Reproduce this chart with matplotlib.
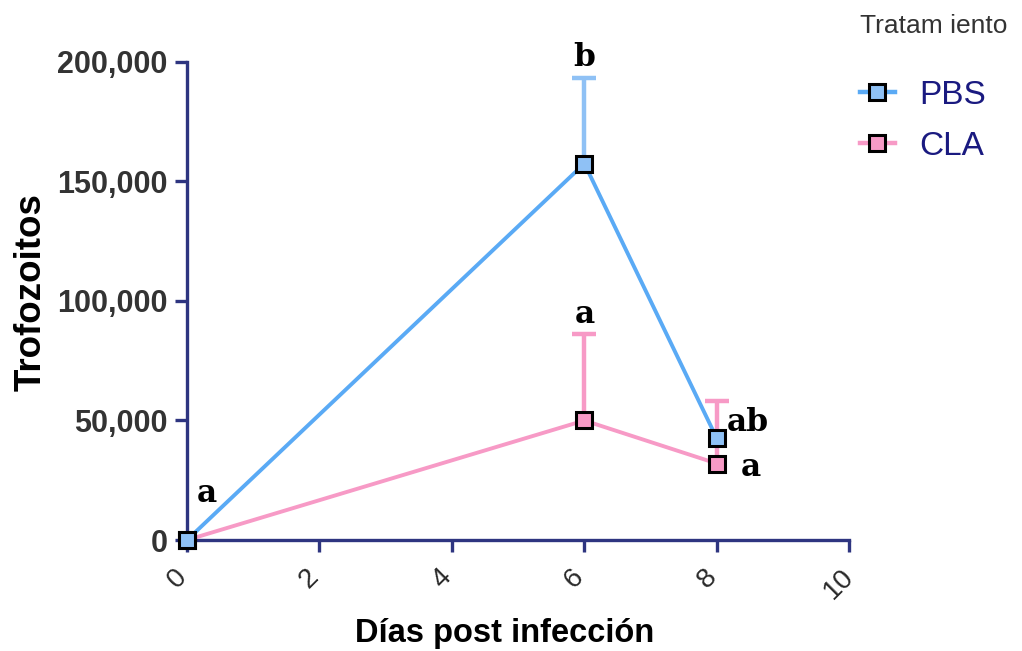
import matplotlib
matplotlib.use("Agg")
import matplotlib.pyplot as plt
import matplotlib.transforms as mtransforms
import numpy as np
from matplotlib.ticker import FuncFormatter
from matplotlib.lines import Line2D

# Days post infection and trophozoite counts (mean, upper SEM)
dias = [0, 6, 8]
pbs_media = [0, 157500, 42500]
pbs_error = [0, 36000, 0]
cla_media = [0, 50000, 32000]
cla_error = [0, 36000, 26000]

# Statistical group letters
letras_pbs = ["a", "b", "ab"]
letras_cla = ["", "a", "a"]

x_ticks = [0, 2, 4, 6, 8, 10]
y_ticks = [0, 50000, 100000, 150000, 200000]

eje_color = "#2e3580"
pbs_linea = "#5aaaf5"
pbs_relleno = "#8fc1f5"
cla_linea = "#f79ac6"
cla_relleno = "#f79ac6"

plt.rcParams["font.family"] = ["Liberation Sans", "DejaVu Sans"]

fig = plt.figure(figsize=(10.22, 6.51), dpi=100)
ax = fig.add_axes([0.183, 0.1705, 0.648, 0.7343])


def serie(x, y, err, linea, relleno, z):
    ax.plot(x, y, color=linea, lw=2.8, marker="s", ms=12, mfc=relleno,
            mec="black", mew=2.2, zorder=z + 1, clip_on=False)
    idx = [i for i, e in enumerate(err) if e > 0]
    yy = [y[i] for i in idx]
    _, caps, _ = ax.errorbar([x[i] for i in idx], yy,
                             yerr=[[0] * len(idx), [err[i] for i in idx]],
                             fmt="none", ecolor=relleno, elinewidth=3.2,
                             capsize=8.5, capthick=3.2, zorder=z, clip_on=False)
    # only the upper whisker carries a cap
    for c in caps:
        if np.allclose(c.get_ydata(), yy):
            c.set_visible(False)


# CLA first so the PBS markers sit on top
serie(dias, cla_media, cla_error, cla_linea, cla_relleno, 3)
serie(dias, pbs_media, pbs_error, pbs_linea, pbs_relleno, 5)

ax.set_xlim(0, 10)
ax.set_ylim(0, 200000)
ax.set_xticks(x_ticks)
ax.set_yticks(y_ticks)
ax.yaxis.set_major_formatter(FuncFormatter(lambda v, p: f"{int(v):,}"))

for s in ["top", "right"]:
    ax.spines[s].set_visible(False)
for s in ["left", "bottom"]:
    ax.spines[s].set_color(eje_color)
    ax.spines[s].set_linewidth(2.4)
ax.tick_params(axis="both", direction="out", length=8.5, width=2.4, color=eje_color)
ax.tick_params(axis="y", labelsize=22, labelcolor="#333333", pad=5.5)
ax.tick_params(axis="x", labelsize=20, labelcolor="#2a2a2a", pad=9)
for t in ax.get_yticklabels():
    t.set_fontweight("bold")
desplaza = mtransforms.ScaledTranslation(-10 / 100, 0, fig.dpi_scale_trans)
for t in ax.get_xticklabels():
    t.set_rotation(45)
    t.set_ha("center")
    t.set_va("top")
    t.set_transform(t.get_transform() + desplaza)

ax.set_xlabel("Días post infección", fontsize=23.5, fontweight="bold")
ax.xaxis.set_label_coords((504 - 187) / 662, -(633 - 540) / 478)
ax.xaxis.label.set_va("center")
ax.set_ylabel("Trofozoitos", fontsize=26.5, fontweight="bold")
ax.yaxis.set_label_coords(-(187 - 31) / 662, (540 - 292) / 478)
ax.yaxis.label.set_va("center")

# Group letters
letra_kw = dict(fontsize=22.5, fontweight="bold", family=["DejaVu Serif"],
                color="black", zorder=7)
ax.annotate(letras_pbs[0], (dias[0], pbs_media[0]), xytext=(14, 22),
            textcoords="offset points", ha="center", va="bottom", **letra_kw)
ax.annotate(letras_pbs[1], (dias[1], pbs_media[1] + pbs_error[1]), xytext=(0, 3),
            textcoords="offset points", ha="center", va="bottom", **letra_kw)
ax.annotate(letras_pbs[2], (dias[2], pbs_media[2]), xytext=(7, 0),
            textcoords="offset points", ha="left", va="bottom", **letra_kw)
ax.annotate(letras_cla[1], (dias[1], cla_media[1] + cla_error[1]), xytext=(0, 3),
            textcoords="offset points", ha="center", va="bottom", **letra_kw)
ax.annotate(letras_cla[2], (dias[2], cla_media[2]), xytext=(17, -3),
            textcoords="offset points", ha="left", va="center", **letra_kw)

# Legend
h_pbs = Line2D([], [], color=pbs_linea, lw=3.2, marker="s", ms=12,
               mfc=pbs_relleno, mec="black", mew=2.2)
h_cla = Line2D([], [], color=cla_linea, lw=3.2, marker="s", ms=12,
               mfc=cla_relleno, mec="black", mew=2.2)
leg = fig.legend([h_pbs, h_cla], ["PBS", "CLA"], loc="upper left",
                 bbox_to_anchor=(0.841, 0.978), frameon=False, fontsize=24,
                 title="Tratam iento", title_fontsize=19, handlelength=1.05,
                 handletextpad=0.75, labelspacing=0.6, borderaxespad=0,
                 borderpad=0)
leg.get_title().set_color("#333333")
leg._legend_box.align = "left"
leg._legend_box.sep = 30
for t in leg.get_texts():
    t.set_color("#1a1a80")
# indent the entries a little under the title
leg._legend_handle_box.set_offset(lambda w, h, xd, yd, r: (6, 0))

fig.savefig("out.png", dpi=100)
